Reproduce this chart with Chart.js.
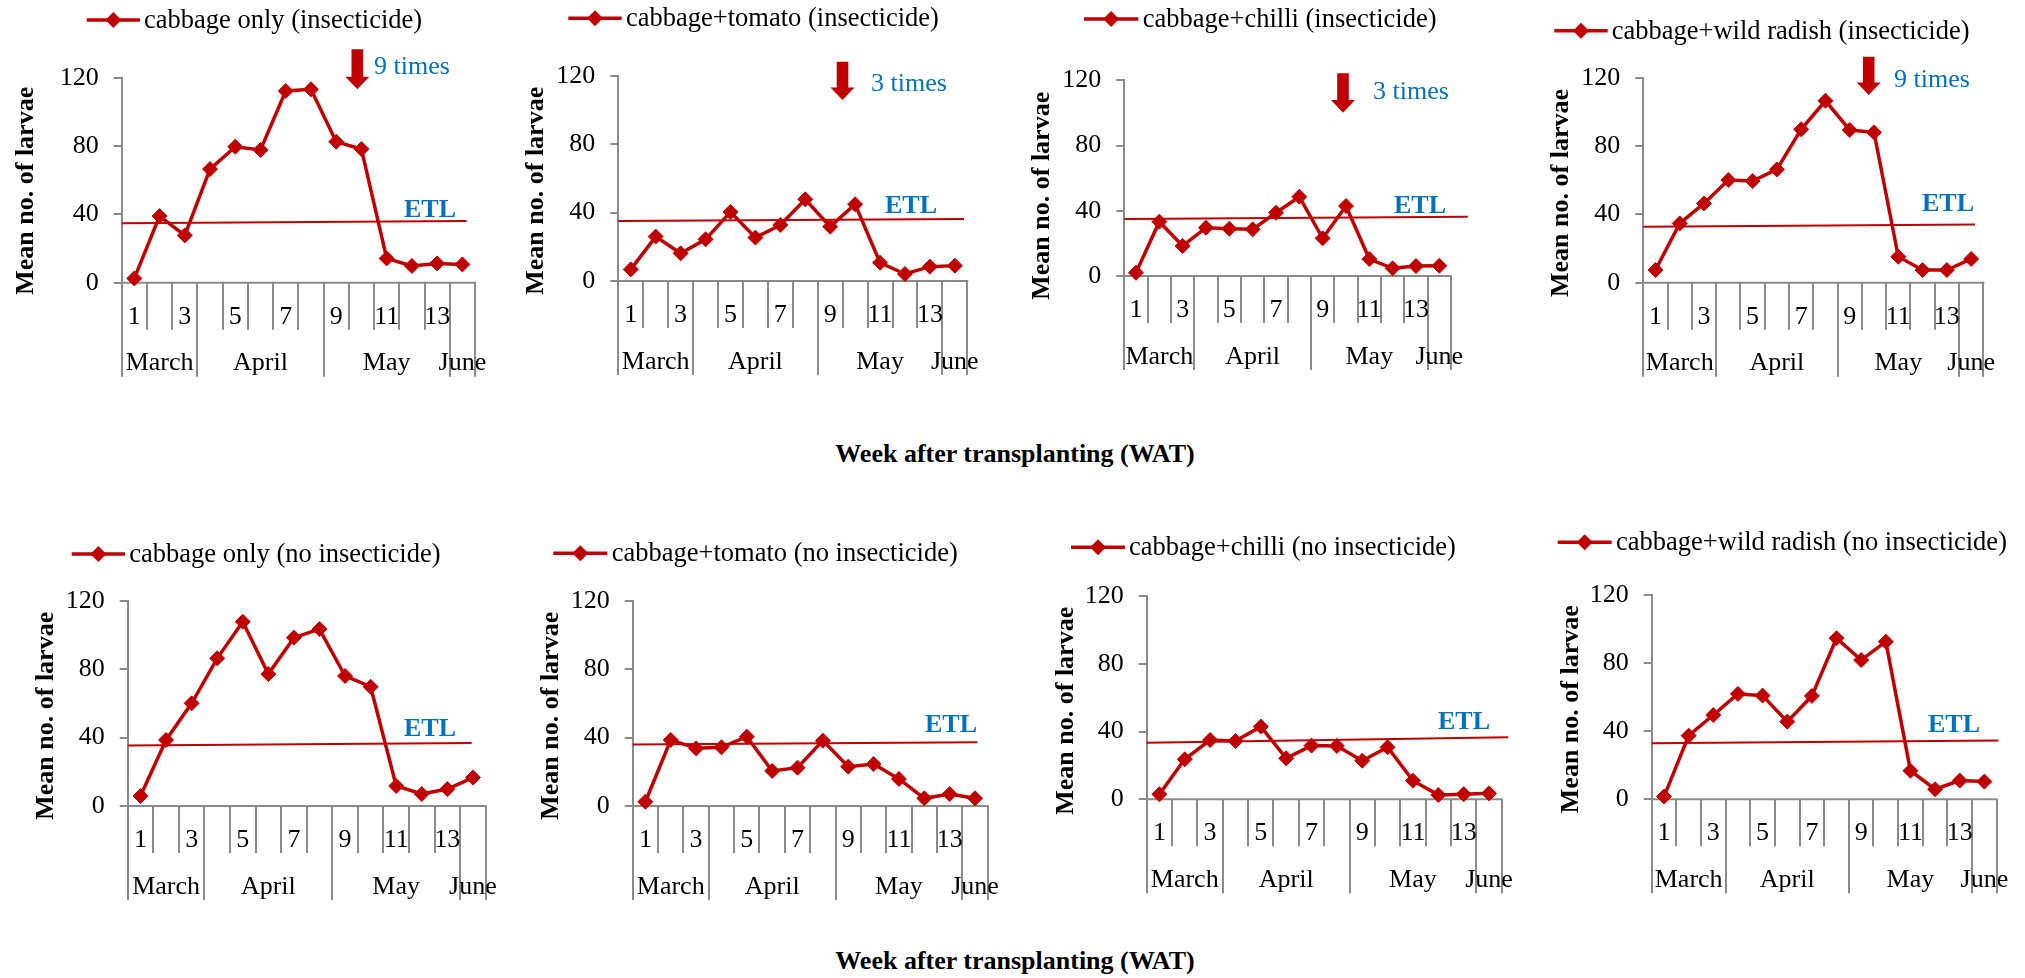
<!DOCTYPE html>
<html>
<head>
<meta charset="utf-8">
<script src="https://cdn.jsdelivr.net/npm/chart.js@4.4.1/dist/chart.umd.min.js"></script>
<style>
  html, body { margin: 0; padding: 0; background: #fff; }
  #fig { position: relative; width: 2025px; height: 978px; overflow: hidden; background: #fff; }
  #fig canvas { position: absolute; }
  .wat { position: absolute; font: bold 26px 'Liberation Serif', 'Times New Roman', serif; color: #000;
         white-space: nowrap; transform: translate(-50%, -50%); }
</style>
</head>
<body>
<div id="fig">
  <div class="wat" style="left:1015px; top:454px;">Week after transplanting (WAT)</div>
  <div class="wat" style="left:1015px; top:961px;">Week after transplanting (WAT)</div>
</div>
<script>
// ---- data ----
const weeks = [1, 2, 3, 4, 5, 6, 7, 8, 9, 10, 11, 12, 13, 14];
const weekTickLabels = ['1', '', '3', '', '5', '', '7', '', '9', '', '11', '', '13', ''];
const months = ['March', 'April', 'May', 'June'];
const monthWeekCounts = [3, 5, 5, 1];

const seriesNames = [
  'cabbage only (insecticide)',
  'cabbage+tomato (insecticide)',
  'cabbage+chilli (insecticide)',
  'cabbage+wild radish (insecticide)',
  'cabbage only (no insecticide)',
  'cabbage+tomato (no insecticide)',
  'cabbage+chilli (no insecticide)',
  'cabbage+wild radish (no insecticide)'
];

const onlyInsecticide    = [2.5, 39, 27.7, 66.5, 79.6, 77.7, 112.2, 113.2, 82.5, 78.2, 14.2, 9.8, 11.3, 10.7];
const tomatoInsecticide  = [6.8, 26, 16.2, 24.4, 40.4, 25.4, 32.8, 47.8, 31.8, 44.9, 10.7, 4.1, 8.4, 9.0];
const chilliInsecticide  = [2.0, 33.3, 18.4, 29.6, 29.0, 28.6, 38.8, 48.6, 23.1, 42.9, 10.4, 4.7, 6.1, 6.3];
const radishInsecticide  = [7.4, 34.7, 46.4, 60.1, 59.5, 66.3, 89.8, 106.5, 89.4, 88.0, 15.2, 7.4, 7.4, 13.9];
const onlyNoInsecticide   = [5.8, 38.6, 60.0, 86.3, 107.7, 77.1, 98.4, 103.4, 76.0, 69.7, 11.7, 7.0, 9.9, 16.6];
const tomatoNoInsecticide = [2.5, 38.6, 33.7, 34.3, 40.5, 20.5, 22.4, 38.2, 23.0, 24.5, 15.8, 4.5, 7.0, 4.5];
const chilliNoInsecticide = [3.0, 23.6, 35.0, 34.4, 42.9, 24.2, 31.7, 31.5, 22.8, 30.7, 11.0, 2.6, 3.0, 3.5];
const radishNoInsecticide = [1.6, 37.4, 49.5, 61.9, 60.9, 45.6, 60.7, 94.6, 81.8, 92.6, 16.8, 5.9, 11.0, 10.4];

const seriesValues = [
  onlyInsecticide, tomatoInsecticide, chilliInsecticide, radishInsecticide,
  onlyNoInsecticide, tomatoNoInsecticide, chilliNoInsecticide, radishNoInsecticide
];

// economic threshold level line: start/end week and level
const etlStartWeek  = [0.5, 0.5, 0.5, 0.5, 0.5, 0.5, 0.5, 0.5];
const etlEndWeek    = [14.17, 14.37, 15.22, 14.16, 13.95, 14.09, 14.76, 14.57];
const etlStartLevel = [34.8, 35.1, 34.9, 32.8, 35.3, 36.0, 33.4, 32.9];
const etlEndLevel   = [36.1, 36.3, 36.4, 34.1, 36.8, 37.2, 36.6, 34.5];

const sprayLabels = ['9 times', '3 times', '3 times', '9 times', null, null, null, null];

// ---- layout (page pixels) ----
const RED = '#C00000', BLUE = '#0070C0', AXIS = '#8A8A8A';
const FONT = "'Liberation Serif', 'Times New Roman', serif";
const Y_AXIS_W = 100;

// region [x, y, w, h]; plot [left, right, zeroY, topY]; legend [lineX1, lineX2, lineY, textX];
// title [baselineX, centerY]; etl [textX, baselineY]; arrow [centerX, top, tip, textX, baselineY]
const panels = [
  { region: [0, 0, 505, 490],     plot: [121.7, 475, 282.7, 77.7],  legend: [86.7, 140, 20, 144],       title: [33.3, 190.8],  etl: [404, 216.5],  arrow: [357.3, 49.3, 89.3, 374, 73.5] },
  { region: [505, 0, 505, 490],   plot: [618.3, 967.3, 281, 76],    legend: [568.3, 621.7, 18.3, 626],  title: [543.3, 190.8], etl: [885, 212.5],  arrow: [842.5, 61.7, 100, 871, 91.2] },
  { region: [1010, 0, 505, 490],  plot: [1124.3, 1451, 276, 80.3],  legend: [1084, 1138.3, 19, 1142.7], title: [1049.3, 195.8], etl: [1394, 212.5], arrow: [1343, 73.3, 112.7, 1373, 98.5] },
  { region: [1515, 0, 510, 490],  plot: [1643.3, 1983.3, 282.7, 77.7], legend: [1554.3, 1607.7, 30.7, 1611.7], title: [1568.3, 193], etl: [1922, 210.8], arrow: [1868.7, 56.7, 95, 1894, 86.8] },
  { region: [0, 490, 505, 488],   plot: [127.7, 485.7, 806, 600.7], legend: [71.7, 125, 554, 129.3],    title: [52.7, 715.8],  etl: [404, 735.8] },
  { region: [505, 490, 505, 488], plot: [632.7, 987.7, 806, 600.7], legend: [553.3, 607.3, 553.3, 611.7], title: [558.3, 715.8], etl: [925, 731.8] },
  { region: [1010, 490, 505, 488], plot: [1146.7, 1501.7, 799.3, 596], legend: [1071, 1125, 547.3, 1129], title: [1072.7, 710.8], etl: [1438, 729.2] },
  { region: [1515, 490, 510, 488], plot: [1651.7, 1996.7, 799.3, 595], legend: [1557.7, 1611.7, 542.3, 1616], title: [1577.7, 709.2], etl: [1928, 731.8] }
];

Chart.defaults.font.family = FONT;
Chart.defaults.color = '#000';

function diamond(ctx, cx, cy, r) {
  ctx.beginPath();
  ctx.moveTo(cx, cy - r); ctx.lineTo(cx + r, cy); ctx.lineTo(cx, cy + r); ctx.lineTo(cx - r, cy);
  ctx.closePath();
}

// category axis (weeks + months), legend, labels and spray arrow
function decorPlugin(i) {
  const p = panels[i];
  const ox = p.region[0], oy = p.region[1];
  const edges = [0];
  monthWeekCounts.forEach(n => edges.push(edges[edges.length - 1] + n));
  return {
    id: 'decor' + i,
    beforeDatasetsDraw(chart) {
      const { ctx, scales: { x, y } } = chart;
      const y0 = y.getPixelForValue(0);
      ctx.save();
      ctx.strokeStyle = AXIS;
      ctx.lineWidth = 2;
      ctx.beginPath();
      ctx.moveTo(x.getPixelForValue(0.5) - 1, y0);
      ctx.lineTo(x.getPixelForValue(weeks.length + 0.5) + 1, y0);
      for (let k = 0; k <= weeks.length; k++) {
        const bx = Math.round(x.getPixelForValue(k + 0.5));
        const len = edges.includes(k) ? 94 : 47;
        ctx.moveTo(bx, y0);
        ctx.lineTo(bx, y0 + len);
      }
      ctx.stroke();
      ctx.restore();
    },
    afterDraw(chart) {
      const { ctx, scales: { x, y } } = chart;
      const y0 = y.getPixelForValue(0);
      ctx.save();
      ctx.fillStyle = '#000';
      ctx.font = '26px ' + FONT;
      ctx.textAlign = 'center';
      ctx.textBaseline = 'alphabetic';
      weeks.forEach((w, k) => {
        if (weekTickLabels[k]) ctx.fillText(weekTickLabels[k], x.getPixelForValue(w), y0 + 41);
      });
      months.forEach((m, k) => {
        const mid = edges[k] + 0.5 + monthWeekCounts[k] / 2;
        ctx.fillText(m, x.getPixelForValue(mid), y0 + 87.5);
      });

      // y-axis title
      ctx.save();
      ctx.translate(p.title[0] - ox, p.title[1] - oy);
      ctx.rotate(-Math.PI / 2);
      ctx.font = 'bold 26px ' + FONT;
      ctx.fillText('Mean no. of larvae', 0, 0);
      ctx.restore();

      // legend
      const [lx1, lx2, ly, tx] = p.legend;
      ctx.strokeStyle = RED;
      ctx.lineWidth = 3.5;
      ctx.beginPath();
      ctx.moveTo(lx1 - ox, ly - oy);
      ctx.lineTo(lx2 - ox, ly - oy);
      ctx.stroke();
      ctx.fillStyle = RED;
      diamond(ctx, (lx1 + lx2) / 2 - ox, ly - oy, 8);
      ctx.fill();
      ctx.fillStyle = '#000';
      ctx.textAlign = 'left';
      ctx.font = '26.5px ' + FONT;
      ctx.fillText(seriesNames[i], tx - ox, ly - oy + 8);

      // ETL label
      ctx.fillStyle = BLUE;
      ctx.font = 'bold 26px ' + FONT;
      ctx.fillText('ETL', p.etl[0] - ox, p.etl[1] - oy);

      // spray arrow and count
      if (sprayLabels[i] && p.arrow) {
        const [ax, top, tip, stx, sty] = p.arrow;
        const cx = ax - ox, t = top - oy, b = tip - oy, head = b - 12.6;
        ctx.fillStyle = RED;
        ctx.beginPath();
        ctx.moveTo(cx - 5.8, t);
        ctx.lineTo(cx + 5.8, t);
        ctx.lineTo(cx + 5.8, head);
        ctx.lineTo(cx + 12, head);
        ctx.lineTo(cx, b);
        ctx.lineTo(cx - 12, head);
        ctx.lineTo(cx - 5.8, head);
        ctx.closePath();
        ctx.fill();
        ctx.fillStyle = BLUE;
        ctx.font = '26px ' + FONT;
        ctx.fillText(sprayLabels[i], stx - ox, sty - oy);
      }
      ctx.restore();
    }
  };
}

const fig = document.getElementById('fig');

panels.forEach((p, i) => {
  const [rx, ry, rw, rh] = p.region;
  const [left, right, zeroY, topY] = p.plot;
  const canvas = document.createElement('canvas');
  canvas.width = rw;
  canvas.height = rh;
  canvas.style.left = rx + 'px';
  canvas.style.top = ry + 'px';
  canvas.style.width = rw + 'px';
  canvas.style.height = rh + 'px';
  fig.appendChild(canvas);

  new Chart(canvas, {
    type: 'line',
    data: {
      datasets: [
        {
          label: seriesNames[i],
          data: weeks.map((w, k) => ({ x: w, y: seriesValues[i][k] })),
          borderColor: RED,
          backgroundColor: RED,
          borderWidth: 3.5,
          pointStyle: 'rectRot',
          pointRadius: 7.5,
          pointBorderWidth: 1,
          pointBackgroundColor: RED,
          pointBorderColor: RED,
          tension: 0,
          clip: false
        },
        {
          label: 'ETL',
          data: [
            { x: etlStartWeek[i], y: etlStartLevel[i] },
            { x: etlEndWeek[i], y: etlEndLevel[i] }
          ],
          borderColor: RED,
          borderWidth: 2,
          pointRadius: 0,
          tension: 0,
          clip: false
        }
      ]
    },
    options: {
      responsive: false,
      animation: false,
      devicePixelRatio: 1,
      events: [],
      layout: {
        padding: {
          left: left - rx - Y_AXIS_W,
          right: rx + rw - right,
          top: topY - ry,
          bottom: ry + rh - zeroY
        }
      },
      plugins: { legend: { display: false }, tooltip: { enabled: false } },
      scales: {
        x: { type: 'linear', display: false, min: 0.5, max: weeks.length + 0.5 },
        y: {
          min: 0,
          max: 120,
          ticks: { stepSize: 40, font: { size: 26, family: FONT }, color: '#000', padding: 15 },
          grid: { drawOnChartArea: false, drawTicks: true, tickLength: 8, color: AXIS, lineWidth: 2 },
          border: { display: true, color: AXIS, width: 2 },
          afterFit(scale) { scale.width = Y_AXIS_W; }
        }
      }
    },
    plugins: [decorPlugin(i)]
  });
});
</script>
</body>
</html>
